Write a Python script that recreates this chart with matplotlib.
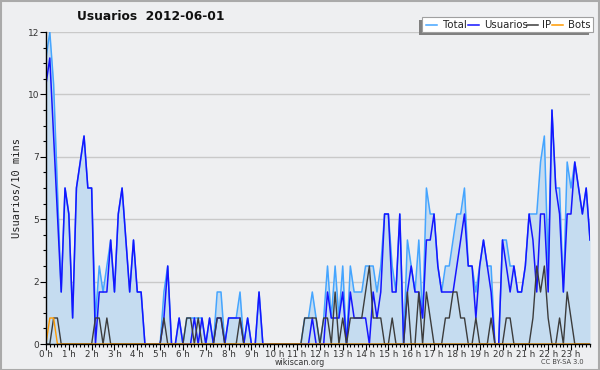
import numpy as np
import matplotlib
matplotlib.use("Agg")
import matplotlib.pyplot as plt
from matplotlib.patches import Rectangle
from matplotlib.lines import Line2D

# ---- data (10-minute slots, 144 per day) ----
hour_labels = [f"{h} h" for h in range(24)]
y_tick_values = [0, 2.4, 4.8, 7.2, 9.6, 12]
y_tick_labels = ["0", "2", "5", "7", "10", "12"]

usuarios = [10, 11, 8, 5, 2, 6, 5, 1, 6, 7,
            8, 6, 6, 0, 2, 2, 2, 4, 2, 5,
            6, 4, 2, 4, 2, 2, 0, 0, 0, 0,
            0, 1, 3, 0, 0, 1, 0, 0, 0, 1,
            0, 1, 0, 1, 0, 1, 1, 0, 1, 1,
            1, 1, 0, 1, 0, 0, 2, 0, 0, 0,
            0, 0, 0, 0, 0, 0, 0, 0, 0, 0,
            1, 0, 0, 0, 2, 1, 1, 1, 2, 0,
            2, 1, 1, 1, 1, 0, 2, 1, 2, 5,
            5, 2, 2, 5, 0, 2, 3, 2, 2, 1,
            4, 4, 5, 3, 2, 2, 2, 2, 3, 4,
            5, 3, 3, 1, 3, 4, 3, 2, 0, 0,
            4, 3, 2, 3, 2, 2, 3, 5, 4, 2,
            5, 5, 2, 9, 6, 5, 2, 5, 5, 7,
            6, 5, 6, 4]

ip = [0, 0, 1, 1, 0, 0, 0, 0, 0, 0,
      0, 0, 0, 1, 1, 0, 1, 0, 0, 0,
      0, 0, 0, 0, 0, 0, 0, 0, 0, 0,
      0, 1, 0, 0, 0, 0, 0, 1, 1, 0,
      1, 0, 0, 0, 0, 1, 1, 0, 0, 0,
      0, 1, 0, 0, 0, 0, 0, 0, 0, 0,
      0, 0, 0, 0, 0, 0, 0, 0, 1, 1,
      1, 1, 0, 1, 1, 0, 2, 0, 1, 0,
      1, 1, 1, 1, 2, 3, 1, 1, 1, 0,
      0, 1, 0, 0, 0, 2, 0, 0, 2, 0,
      2, 1, 0, 0, 0, 1, 1, 2, 2, 1,
      1, 0, 0, 1, 0, 0, 0, 1, 0, 0,
      0, 1, 1, 0, 0, 0, 0, 0, 1, 3,
      2, 3, 1, 0, 0, 1, 0, 2, 1, 0,
      0, 0, 0, 0]

bots = [0, 1, 1, 0, 0, 0, 0, 0, 0, 0] + [0] * 134

total = [11, 12, 10, 6, 2, 6, 5, 1, 6, 7,
         8, 6, 6, 1, 3, 2, 3, 4, 2, 5,
         6, 4, 2, 4, 2, 2, 0, 0, 0, 0,
         0, 2, 3, 0, 0, 1, 0, 1, 1, 1,
         1, 1, 0, 1, 0, 2, 2, 0, 1, 1,
         1, 2, 0, 1, 0, 0, 2, 0, 0, 0,
         0, 0, 0, 0, 0, 0, 0, 0, 1, 1,
         2, 1, 0, 1, 3, 1, 3, 1, 3, 0,
         3, 2, 2, 2, 3, 3, 3, 2, 3, 5,
         5, 3, 2, 5, 0, 4, 3, 2, 4, 1,
         6, 5, 5, 3, 2, 3, 3, 4, 5, 5,
         6, 3, 3, 2, 3, 4, 3, 3, 0, 0,
         4, 4, 3, 3, 2, 2, 3, 5, 5, 5,
         7, 8, 3, 9, 6, 6, 2, 7, 6, 7,
         6, 5, 6, 4]

BG = "#eeeff1"
C_TOTAL = "#45a5ff"
C_USERS = "#1515ff"
C_IP = "#3c3c3c"
C_BOTS = "#ff9a00"
C_FILL = "#c5dcf0"

W, H = 600, 370
fig = plt.figure(figsize=(6, 3.7), dpi=100, facecolor=BG)
ax = fig.add_axes([46 / W, 26 / H, 544 / W, 312 / H], facecolor=BG)

x = np.arange(len(total))
ax.fill_between(x, total, 0, color=C_FILL, lw=0, zorder=1)
ax.plot(x, total, color=C_TOTAL, lw=1.1, zorder=3)
ax.plot(x, usuarios, color=C_USERS, lw=1.1, zorder=4)
ax.plot(x, ip, color=C_IP, lw=1.0, zorder=5)
ax.plot(x, bots, color=C_BOTS, lw=1.0, zorder=6)

ax.set_xlim(0, len(total) - 1)
ax.set_ylim(0, 12)

ax.set_yticks(y_tick_values)
ax.set_yticklabels(y_tick_labels)
ax.set_yticks(np.arange(0, 12.01, 0.6), minor=True)
ax.set_xticks(np.arange(0, 144, 6))
ax.set_xticklabels(hour_labels)
ax.set_xticks(np.arange(0, 144, 1), minor=True)

ax.tick_params(axis="y", which="major", length=4, width=0.8, color="black",
               labelsize=6.5, labelcolor="#333333", pad=1)
ax.tick_params(axis="y", which="minor", length=2.5, width=0.8, color="black")
ax.tick_params(axis="x", which="major", length=4, width=0.8, color="black",
               labelsize=6.3, labelcolor="#333333", pad=0)
ax.tick_params(axis="x", which="minor", length=2, width=0.8, color="black")

for yv in y_tick_values[1:]:
    ax.axhline(yv, color="#c9c9c9", lw=1, zorder=0.5)

for s in ["top", "right"]:
    ax.spines[s].set_visible(False)
for s in ["left", "bottom"]:
    ax.spines[s].set_color("black")
    ax.spines[s].set_linewidth(1.0)
    ax.spines[s].set_zorder(7)

ax.set_ylabel("Usuarios/10 mins", fontsize=7.5, family="DejaVu Sans Mono",
              color="#222222", labelpad=4)

fig.text(151 / W, 1 - 16 / H, "Usuarios  2012-06-01", ha="center", va="center",
         fontsize=8.8, fontweight="bold", color="#111111")

fig.text(300 / W, 1 - 362.5 / H, "wikiscan.org", ha="center", va="center",
         fontsize=5.8, color="#333333")
fig.text(562 / W, 1 - 362.5 / H, "CC BY-SA 3.0", ha="center", va="center",
         fontsize=4.8, color="#444444")

# frame around figure
fig.patches.append(Rectangle((0.5 / W, 0.5 / H), 1 - 1.5 / W, 1 - 1.5 / H,
                             transform=fig.transFigure, fill=False,
                             edgecolor="#aaaaaa", lw=1.5))

# legend (manual, with shadow)
lx0, lx1, ly0, ly1 = 422, 593, 17, 32
fig.patches.append(Rectangle(((lx0 - 3) / W, 1 - (ly1 + 3) / H),
                             (lx1 - lx0 - 1) / W, (ly1 - ly0) / H,
                             transform=fig.transFigure, facecolor="#808080",
                             lw=0, zorder=10))
fig.patches.append(Rectangle((lx0 / W, 1 - ly1 / H), (lx1 - lx0) / W,
                             (ly1 - ly0) / H, transform=fig.transFigure,
                             facecolor="white", edgecolor="#a0a0a0", lw=0.8,
                             zorder=11))
items = [("Total", C_TOTAL, 426, 443), ("Usuarios", C_USERS, 468, 484),
         ("IP", C_IP, 527, 542), ("Bots", C_BOTS, 552, 568)]
ly = 1 - 24.5 / H
for lab, col, xl, xt in items:
    fig.lines.append(Line2D([xl / W, (xl + 11) / W], [ly, ly], color=col,
                            lw=1.1, transform=fig.transFigure, zorder=12))
    fig.text(xt / W, ly, lab, ha="left", va="center", fontsize=7.3,
             color="#222222", zorder=12)

fig.savefig("out.png", dpi=100, facecolor=BG)
